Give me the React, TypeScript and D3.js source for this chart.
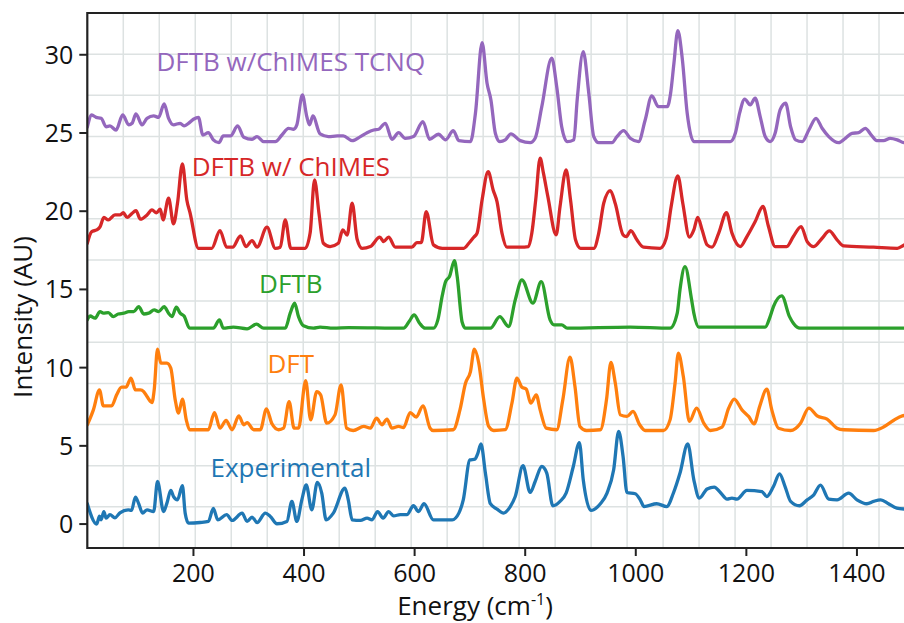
import * as d3 from "d3";

// spectra as plotted (energy cm-1, intensity AU incl. vertical offset)
const experimental: [number, number][] = [
  [8,1.3],[25,0.0],[30,0.5],[33,0.27],[38,0.8],[42,0.38],[49,0.6],[58,0.4],[67,0.72],[82,0.91],[88,0.87],[95,1.72],[101,1.3],[108,0.7],[116,0.91],[128,0.8],[135,2.72],[146,0.8],[152,1.34],[159,2.15],[164,1.76],[171,1.55],[180,2.45],[185,0.7],[191,0.06],[212,0.1],[227,0.17],[236,1.0],[244,0.27],[260,0.6],[270,0.23],[288,0.7],[297,0.17],[306,0.45],[315,0.1],[330,0.7],[339,0.49],[351,0.02],[369,0.17],[378,1.45],[387,0.17],[396,1.55],[404,2.5],[414,0.91],[424,2.66],[432,1.98],[440,0.27],[453,0.7],[474,2.3],[480,1.55],[487,0.27],[502,0.23],[514,0.38],[523,0.27],[533,0.8],[543,0.38],[553,0.8],[562,0.53],[574,0.6],[586,0.6],[598,1.17],[607,0.8],[617,1.3],[634,0.27],[668,0.27],[680,0.7],[688,1.55],[700,4.1],[709,4.15],[714,4.49],[720,5.13],[728,3.26],[737,1.3],[749,0.96],[761,0.7],[773,1.12],[782,1.76],[796,3.73],[809,2.02],[818,2.72],[830,3.68],[839,3.26],[850,1.17],[863,1.45],[874,1.98],[887,3.68],[898,5.21],[905,2.83],[919,0.87],[936,1.3],[948,1.98],[960,3.47],[969,5.92],[977,4.32],[984,2.02],[999,1.94],[1008,1.55],[1015,1.12],[1038,1.3],[1056,1.12],[1068,1.98],[1080,3.26],[1094,5.13],[1105,2.83],[1115,1.66],[1129,2.24],[1142,2.36],[1153,2.02],[1165,1.6],[1174,1.66],[1183,1.6],[1201,2.15],[1228,2.08],[1237,1.76],[1249,2.4],[1260,3.21],[1270,2.4],[1280,1.45],[1296,1.17],[1310,1.55],[1322,1.87],[1334,2.49],[1349,1.6],[1364,1.55],[1385,1.98],[1400,1.55],[1418,1.3],[1430,1.45],[1443,1.55],[1457,1.3],[1472,1.02],[1486,0.96],
];

const dft: [number, number][] = [
  [8,6.34],[19,7.3],[30,8.58],[37,7.56],[52,7.56],[61,8.26],[70,8.75],[78,8.75],[87,9.33],[95,8.58],[104,8.58],[110,8.47],[116,8.15],[125,7.77],[129,8.58],[135,11.18],[141,10.29],[152,10.29],[159,9.97],[167,7.94],[173,7.09],[180,7.99],[187,6.66],[193,6.03],[227,6.03],[238,7.13],[248,6.13],[259,6.62],[270,6.03],[282,6.92],[291,6.35],[297,6.49],[309,6.03],[321,6.03],[332,7.37],[342,6.41],[354,6.03],[363,6.13],[373,7.83],[382,6.13],[390,6.13],[403,9.16],[412,6.66],[423,8.47],[430,8.26],[441,6.45],[456,6.98],[467,8.9],[477,6.13],[489,5.98],[508,6.24],[520,6.13],[531,6.77],[541,6.35],[550,6.71],[559,6.13],[571,6.24],[580,6.17],[592,7.13],[603,6.84],[615,7.56],[628,6.13],[634,5.98],[670,6.03],[682,7.3],[692,9.0],[701,9.75],[708,11.18],[716,10.29],[725,7.94],[734,6.24],[743,5.98],[764,6.03],[776,7.73],[785,9.33],[794,8.75],[802,8.62],[810,7.73],[820,8.26],[827,7.3],[838,6.13],[857,6.03],[868,7.94],[881,10.67],[890,8.79],[899,6.24],[911,5.98],[936,6.03],[947,7.94],[955,10.33],[963,9.0],[972,6.98],[984,6.88],[995,7.2],[1007,6.35],[1017,5.98],[1050,5.98],[1062,6.66],[1071,9.0],[1077,10.93],[1086,9.43],[1097,6.56],[1110,7.41],[1123,6.45],[1135,5.98],[1156,6.2],[1168,7.41],[1178,7.99],[1192,7.3],[1204,6.88],[1214,6.41],[1224,7.51],[1237,8.62],[1246,7.3],[1258,6.13],[1280,5.98],[1298,6.45],[1313,7.41],[1328,6.92],[1346,6.71],[1364,6.13],[1376,6.03],[1430,5.98],[1448,6.2],[1466,6.62],[1482,6.92],[1500,7.0],
];

const dftb: [number, number][] = [
  [8,13.05],[13,13.3],[22,13.16],[31,13.58],[37,13.48],[46,13.52],[55,13.26],[64,13.43],[74,13.48],[83,13.58],[92,13.58],[101,13.9],[110,13.43],[119,13.48],[129,13.69],[137,13.58],[147,13.9],[155,13.48],[161,13.26],[169,13.86],[176,13.48],[183,13.3],[193,12.52],[236,12.52],[247,13.05],[254,12.52],[272,12.59],[297,12.48],[314,12.78],[327,12.52],[366,12.52],[375,13.48],[383,14.12],[390,13.26],[399,12.67],[417,12.52],[429,12.59],[453,12.52],[481,12.56],[580,12.52],[591,13.0],[599,13.37],[609,12.84],[619,12.52],[634,12.52],[642,13.05],[650,14.6],[656,15.5],[663,15.82],[672,16.84],[677,15.82],[686,12.9],[692,12.52],[737,12.52],[754,13.26],[770,12.63],[782,14.33],[794,15.61],[814,14.12],[829,15.5],[845,13.05],[852,12.73],[866,12.73],[876,12.52],[990,12.59],[1062,12.52],[1075,13.48],[1080,15.0],[1089,16.46],[1101,14.33],[1105,13.48],[1114,12.59],[1234,12.59],[1243,13.26],[1249,13.9],[1264,14.59],[1278,13.26],[1285,12.84],[1297,12.52],[1500,12.52],
];

const dftbChimes: [number, number][] = [
  [8,17.95],[16,18.7],[25,18.8],[31,19.0],[38,19.6],[46,19.44],[58,19.76],[67,19.76],[73,19.9],[80,19.6],[88,19.83],[96,20.04],[104,19.49],[116,19.76],[125,20.08],[133,19.9],[140,20.13],[145,19.44],[155,20.83],[164,19.19],[171,20.47],[180,23.02],[188,20.72],[194,19.87],[209,17.63],[233,17.63],[248,18.76],[260,17.7],[271,17.7],[285,18.42],[295,17.74],[306,18.12],[315,17.7],[333,18.98],[348,17.63],[357,17.7],[366,19.44],[376,17.63],[402,17.63],[411,18.6],[419,22.0],[427,19.87],[435,17.95],[447,17.74],[462,17.95],[470,18.8],[478,18.48],[487,20.51],[496,18.21],[505,17.63],[520,17.74],[537,18.34],[544,18.06],[553,18.34],[565,17.7],[595,17.7],[604,17.99],[612,17.99],[621,19.97],[634,17.85],[650,17.63],[689,17.63],[698,17.95],[707,18.34],[713,18.6],[722,20.72],[733,22.53],[742,21.36],[749,20.61],[758,18.6],[767,17.7],[791,17.7],[806,17.74],[812,18.6],[819,20.72],[827,23.39],[833,22.43],[841,20.93],[856,18.49],[863,20.3],[874,22.64],[882,20.72],[891,18.17],[900,17.63],[924,17.63],[933,18.6],[942,20.51],[954,21.32],[963,20.47],[977,18.49],[983,18.38],[991,18.76],[1002,18.17],[1014,17.7],[1044,17.63],[1055,18.27],[1064,20.3],[1076,22.26],[1085,20.51],[1097,18.34],[1105,18.8],[1112,19.6],[1120,18.8],[1129,17.85],[1138,17.7],[1150,18.6],[1164,19.9],[1174,18.6],[1189,17.74],[1201,18.38],[1216,19.34],[1230,20.3],[1240,19.02],[1252,17.74],[1273,17.74],[1285,18.38],[1299,19.02],[1310,18.06],[1322,17.74],[1337,18.27],[1350,18.74],[1364,18.17],[1376,17.78],[1430,17.7],[1473,17.63],[1486,17.85],[1500,18.0],
];

const dftbChimesTcnq: [number, number][] = [
  [8,25.37],[16,26.15],[24,26.0],[33,25.94],[42,25.4],[49,25.45],[60,25.19],[72,26.15],[83,25.52],[89,25.62],[96,26.22],[107,25.52],[116,25.94],[128,26.09],[137,26.0],[147,26.86],[155,25.94],[164,25.52],[176,25.62],[183,25.45],[191,25.62],[200,25.88],[209,26.0],[217,24.87],[227,25.02],[236,24.56],[246,24.38],[254,24.81],[267,24.81],[280,25.45],[291,24.73],[306,24.6],[315,24.77],[327,24.45],[348,24.45],[360,24.87],[372,25.3],[381,25.24],[387,25.52],[397,27.43],[405,26.05],[410,25.52],[416,26.09],[429,24.94],[444,24.77],[460,24.81],[471,24.81],[487,24.51],[502,24.77],[514,25.02],[526,25.19],[535,25.24],[547,25.62],[559,24.6],[571,25.02],[583,24.66],[598,24.77],[615,25.73],[627,24.6],[643,24.92],[656,24.56],[670,25.15],[680,24.51],[701,24.45],[710,26.26],[722,30.77],[731,28.18],[738,27.11],[746,24.98],[754,24.45],[764,24.56],[774,24.94],[791,24.51],[809,24.38],[818,24.66],[830,26.68],[848,29.78],[857,27.96],[866,25.4],[876,24.45],[888,24.56],[894,27.11],[905,30.2],[915,27.54],[924,24.77],[933,24.38],[957,24.38],[966,24.77],[978,25.15],[990,24.66],[1005,24.45],[1017,25.83],[1029,27.37],[1041,26.68],[1057,26.68],[1063,27.54],[1069,29.46],[1076,31.54],[1084,29.78],[1093,26.26],[1105,24.45],[1171,24.45],[1180,24.98],[1188,26.3],[1197,27.16],[1207,26.8],[1216,27.22],[1225,26.05],[1234,24.77],[1243,24.45],[1252,24.98],[1261,26.47],[1271,26.9],[1280,25.4],[1289,24.56],[1301,24.45],[1313,25.19],[1326,25.94],[1337,25.3],[1349,24.77],[1367,24.38],[1379,24.66],[1391,24.98],[1403,25.02],[1415,25.3],[1426,24.87],[1436,24.51],[1448,24.51],[1460,24.66],[1473,24.56],[1485,24.38],[1500,24.35],
];

const seriesNames = ["Experimental", "DFT", "DFTB", "DFTB w/ ChIMES", "DFTB w/ChIMES TCNQ"];
const seriesData = [experimental, dft, dftb, dftbChimes, dftbChimesTcnq];
const seriesColors = ["#1f77b4", "#ff7f0e", "#2ca02c", "#d62728", "#9467bd"];
// label baseline in AU, centered at labelX
const labelY = [3.03, 9.63, 14.74, 22.24, 28.95];
const labelX = 376;

const xTicks = [200, 400, 600, 800, 1000, 1200, 1400];
const yTicks = [0, 5, 10, 15, 20, 25, 30];

const W = 904;
const H = 623;
const FONT = "'Open Sans', 'DejaVu Sans', sans-serif";

export default function App() {
  const margin = { top: 13, left: 87.3, bottom: 75 };
  const plotRight = 915;
  const plotBottom = H - margin.bottom;

  const xDomain = [8, 1505];
  const yDomain = [-1.53, 32.67];
  const x = d3.scaleLinear().domain(xDomain).range([margin.left, plotRight]);
  const y = d3.scaleLinear().domain(yDomain).range([plotBottom, margin.top]);

  // background grid divides the frame evenly
  const vGrid = d3.range(1, 23).map(i => xDomain[0] + (i * (xDomain[1] - xDomain[0])) / 23);
  const hGrid = d3.range(1, 13).map(i => yDomain[0] + (i * (yDomain[1] - yDomain[0])) / 13);

  const line = d3.line<[number, number]>()
    .x(d => x(d[0]))
    .y(d => y(d[1]))
    .curve(d3.curveMonotoneX);

  return (
    <svg width={W} height={H} style={{ position: "absolute", left: 0, top: 0, background: "#fff" }} fontFamily={FONT}>
      <defs>
        <clipPath id="plot-clip">
          <rect x={margin.left} y={margin.top} width={plotRight - margin.left} height={plotBottom - margin.top} />
        </clipPath>
      </defs>

      <g stroke="#dde2e2" strokeWidth={1.5}>
        {vGrid.map((v, i) => (
          <line key={"v" + i} x1={x(v)} x2={x(v)} y1={margin.top} y2={plotBottom} />
        ))}
        {hGrid.map((v, i) => (
          <line key={"h" + i} x1={margin.left} x2={plotRight} y1={y(v)} y2={y(v)} />
        ))}
      </g>

      <g clipPath="url(#plot-clip)" fill="none" strokeWidth={3.3} strokeLinejoin="round" strokeLinecap="round">
        {seriesData.map((d, i) => (
          <path key={seriesNames[i]} d={line(d) || ""} stroke={seriesColors[i]} />
        ))}
      </g>

      {seriesNames.map((name, i) => (
        <text key={name} x={x(labelX)} y={y(labelY[i])} textAnchor="middle" fontSize={26} fill={seriesColors[i]}>
          {name}
        </text>
      ))}

      {/* frame */}
      <g stroke="#222" strokeWidth={2.2} fill="none">
        <line x1={margin.left} x2={W} y1={margin.top} y2={margin.top} />
        <line x1={margin.left} x2={margin.left} y1={margin.top - 1} y2={plotBottom + 1} />
        <line x1={margin.left} x2={W} y1={plotBottom} y2={plotBottom} />
      </g>

      {/* y axis */}
      <g>
        {yTicks.map(t => (
          <g key={t} transform={`translate(0, ${y(t)})`}>
            <line x1={margin.left - 8} x2={margin.left} stroke="#222" strokeWidth={2} />
            <text x={margin.left - 14} dy="0.36em" textAnchor="end" fontSize={25} fill="#111">{t}</text>
          </g>
        ))}
      </g>

      {/* x axis */}
      <g>
        {xTicks.map(t => (
          <g key={t} transform={`translate(${x(t)}, 0)`}>
            <line y1={plotBottom} y2={plotBottom + 8} stroke="#222" strokeWidth={2} />
            <text y={plotBottom + 33.5} textAnchor="middle" fontSize={25} fill="#111">{t}</text>
          </g>
        ))}
      </g>

      <text x={475} y={615} textAnchor="middle" fontSize={26} fill="#111">
        Energy (cm<tspan fontSize={16} dy={-10}>-1</tspan><tspan dy={10}>)</tspan>
      </text>
      <text transform="translate(32, 317) rotate(-90)" textAnchor="middle" fontSize={26} fill="#111">
        Intensity (AU)
      </text>
    </svg>
  );
}
